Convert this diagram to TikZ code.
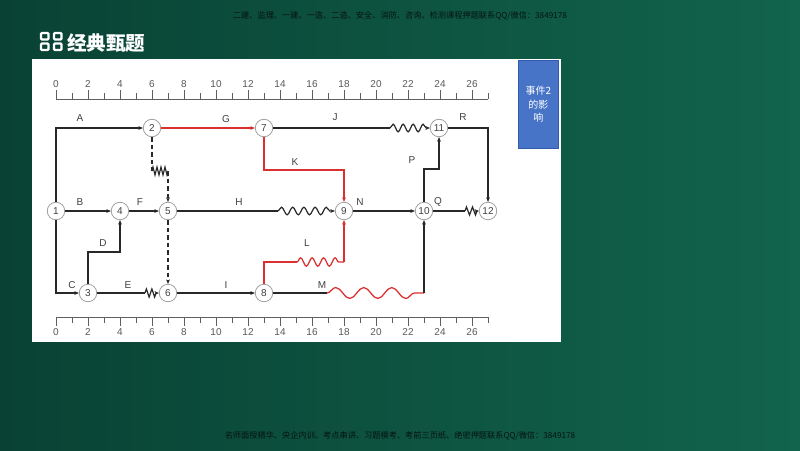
\documentclass[tikz,border=0pt]{standalone}
\usepackage{fontspec}
\setmainfont{Liberation Sans}
\newfontfamily\cjk{Noto Sans CJK SC}
\usetikzlibrary{arrows.meta,decorations.pathmorphing}
\definecolor{bgA}{RGB}{9,66,52}
\definecolor{bgB}{RGB}{18,100,76}
\definecolor{lnc}{RGB}{40,40,40}
\definecolor{redc}{RGB}{218,48,48}
\definecolor{boxc}{RGB}{72,116,200}
\definecolor{boxd}{RGB}{50,90,170}
\definecolor{rulc}{RGB}{95,95,95}
\definecolor{bannc}{RGB}{5,20,15}
\tikzset{
  evt/.style={circle,draw=gray!75,fill=white,line width=0.8pt,minimum size=17.5pt,inner sep=0pt,font=\fontsize{10}{10}\selectfont,text=black!75},
  ln/.style={draw=lnc,line width=1.2pt},
  rl/.style={draw=redc,line width=1.25pt},
  arr/.style={-{Stealth[length=4.5pt,width=3.8pt]}},
  dsh/.style={dash pattern=on 4.5pt off 3pt},
  lab/.style={font=\fontsize{10}{10}\selectfont,text=black!75,inner sep=0pt},
  tick/.style={draw=rulc,line width=0.8pt},
  num/.style={font=\fontsize{10}{10}\selectfont,text=black!65,inner sep=0pt},
  wv/.style={decorate,decoration={snake,segment length=#1,amplitude=3.8pt,post length=2pt}},
  zz/.style={decorate,decoration={zigzag,segment length=#1,amplitude=4pt,post length=1.5pt}},
  bann/.style={font=\cjk\fontsize{8.2}{8.2}\selectfont,text=bannc,inner sep=0pt}
}
\begin{document}
\begin{tikzpicture}[x=1pt,y=-1pt]
\useasboundingbox (0,0) rectangle (800,450);
\shade[left color=bgA,right color=bgB] (0,0) rectangle (800,450);
% banners
\node[bann] (top) at (400,16) {二建、监理、一建、一造、二造、安全、消防、咨询、检测课程押题联系QQ/微信：3849178};
\node[bann] (bot) at (400,436) {名师面授精华、央企内训、考点串讲、习题模考、考前三页纸、绝密押题联系QQ/微信：3849178};
% title
\foreach \a/\b in {40/32,53/32,40/42.5,53/42.5}
  \draw[white,line width=2.2pt,rounded corners=1pt] (\a+1,\b+1) rectangle (\a+8.5,\b+7.5);
\node[font=\cjk\bfseries\fontsize{19.5}{19.5}\selectfont,text=white,anchor=west,inner sep=0pt] (title) at (67,43) {经典甄题};
% panel
\fill[white] (32,59) rectangle (561,342);
% blue box
\node[draw=boxd,fill=boxc,line width=0.8pt,minimum width=40pt,minimum height=88pt,inner sep=0pt,anchor=north west,
      font=\cjk\fontsize{10}{13.5}\selectfont,text=white,align=center] (box) at (518,60) {事件2\\的影\\响};
% rulers
\draw[tick] (56,99) -- (488,99);
\draw[tick] (56,317) -- (488,317);
\foreach \i in {0,...,27}{
  \pgfmathsetmacro{\xx}{56+16*\i}
  \ifodd\i
    \draw[tick] (\xx,93) -- (\xx,99);
    \draw[tick] (\xx,317) -- (\xx,323);
  \else
    \draw[tick] (\xx,90) -- (\xx,99);
    \draw[tick] (\xx,317) -- (\xx,326);
  \fi
}
\foreach \i in {0,2,...,26}{
  \node[num] at (56+16*\i,84) {\i};
  \node[num] at (56+16*\i,332) {\i};
}
% events
\node[evt] (n1) at (56,211) {1};
\node[evt] (n2) at (152,128) {2};
\node[evt] (n3) at (88,293) {3};
\node[evt] (n4) at (120,211) {4};
\node[evt] (n5) at (168,211) {5};
\node[evt] (n6) at (168,293) {6};
\node[evt] (n7) at (264,128) {7};
\node[evt] (n8) at (264,293) {8};
\node[evt] (n9) at (344,211) {9};
\node[evt] (n10) at (424,211) {10};
\node[evt] (n11) at (439,128) {11};
\node[evt] (n12) at (488,211) {12};
% helper coordinates
\coordinate (dk) at (88,252);
\coordinate (k1) at (264,170);
\coordinate (l1) at (264,262);
\coordinate (ls) at (297,262);
\coordinate (le) at (344,262);
\coordinate (p1) at (424,169);
\coordinate (js) at (390,128);
\coordinate (hs) at (278,211);
\coordinate (qs) at (465,211);
\coordinate (es) at (145,293);
\coordinate (ms) at (327,293);
\coordinate (me) at (424,293);
\coordinate (d1) at (152,171);
\coordinate (d2) at (168,171);
% activities
\draw[ln,arr] (n1) |- (n2);
\draw[ln,arr] (n1) |- (n3);
\draw[ln,arr] (n1) -- (n4);
\draw[ln,arr] (n4) -- (n5);
\draw[ln,arr] (n3) -- (dk) -| (n4);
\draw[rl,arr] (n2) -- (n7);
\draw[ln] (n7) -- (js);
\draw[ln,arr,wv=10pt] (js) -- (n11);
\draw[ln,arr] (n11) -| (n12);
\draw[rl,arr] (n7) -- (k1) -| (n9);
\draw[ln] (n5) -- (hs);
\draw[ln,arr,wv=11.2pt] (hs) -- (n9);
\draw[ln,arr] (n9) -- (n10);
\draw[ln] (n10) -- (qs);
\draw[ln,arr,zz=6pt] (qs) -- (n12);
\draw[ln,arr] (n10) -- (p1) -| (n11);
\draw[ln] (n3) -- (es);
\draw[ln,arr,zz=5.5pt] (es) -- (n6);
\draw[ln,arr] (n6) -- (n8);
\draw[rl] (n8) -- (l1) -- (ls);
\draw[rl,decorate,decoration={snake,segment length=11.5pt,amplitude=4.2pt}] (ls) -- (le);
\draw[rl,arr] (le) -- (n9);
\draw[ln] (n8) -- (ms);
\draw[rl,decorate,decoration={snake,segment length=28pt,amplitude=5.5pt}] (ms) -- (me);
\draw[ln,arr] (me) -- (n10);
\draw[ln,dsh] (n2) -- (d1);
\draw[ln,decorate,decoration={zigzag,segment length=4pt,amplitude=4pt}] (d1) -- (d2);
\draw[ln,dsh,arr] (d2) -- (n5);
\draw[ln,dsh,arr] (n5) -- (n6);
% labels
\node[lab] (lA) at (80,118) {A};
\node[lab] (lG) at (226,119) {G};
\node[lab] (lJ) at (335,117) {J};
\node[lab] (lR) at (463,117) {R};
\node[lab] (lK) at (295,162) {K};
\node[lab] (lP) at (412,160) {P};
\node[lab] (lB) at (80,202) {B};
\node[lab] (lF) at (140,202) {F};
\node[lab] (lH) at (239,202) {H};
\node[lab] (lN) at (360,202) {N};
\node[lab] (lQ) at (438,202) {Q};
\node[lab] (lD) at (103,243) {D};
\node[lab] (lL) at (307,243) {L};
\node[lab] (lC) at (72,285) {C};
\node[lab] (lE) at (128,285) {E};
\node[lab] (lI) at (226,285) {I};
\node[lab] (lM) at (322,285) {M};
\end{tikzpicture}
\end{document}
